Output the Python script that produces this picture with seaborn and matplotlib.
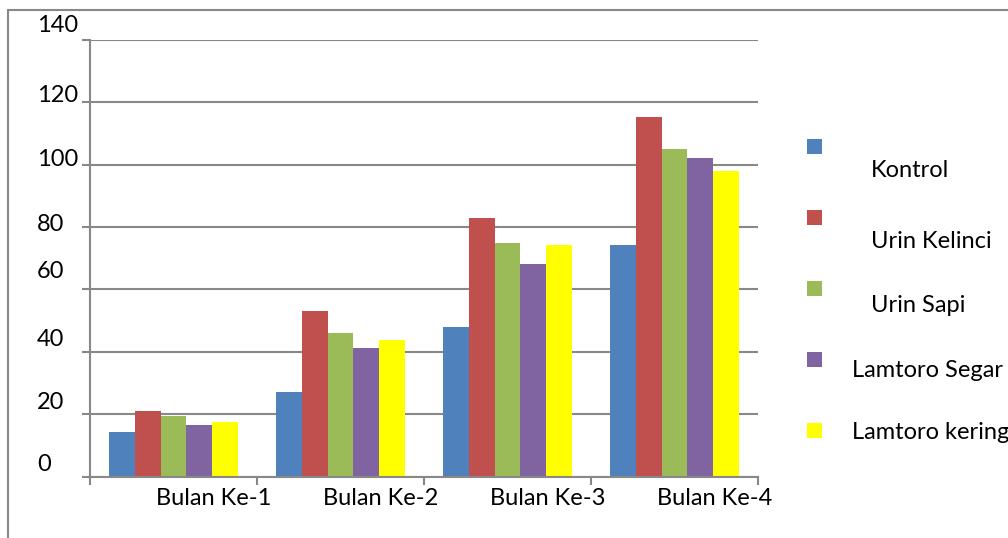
import numpy as np
import pandas as pd
import seaborn as sns
import matplotlib
matplotlib.use("Agg")
import matplotlib.pyplot as plt
from matplotlib.transforms import ScaledTranslation, blended_transform_factory
from matplotlib.patches import Rectangle
from matplotlib.lines import Line2D

# ---------------- data ----------------
categories = ["Bulan Ke-1", "Bulan Ke-2", "Bulan Ke-3", "Bulan Ke-4"]
series_names = ["Kontrol", "Urin Kelinci", "Urin Sapi", "Lamtoro Segar", "Lamtoro kering"]
kontrol = [14.3, 27.1, 47.9, 74.2]
urin_kelinci = [21.0, 53.0, 82.9, 115.2]
urin_sapi = [19.4, 46.0, 74.8, 105.0]
lamtoro_segar = [16.5, 41.2, 68.1, 102.1]
lamtoro_kering = [17.5, 43.8, 74.2, 97.9]
ytick_values = [0, 20, 40, 60, 80, 100, 120, 140]
ytick_labels = ["0", "20", "40", "60", "80", "100", "120", "140"]
colors = ["#4F81BD", "#C0504D", "#9BBB59", "#8064A2", "#FFFF00"]

values = [kontrol, urin_kelinci, urin_sapi, lamtoro_segar, lamtoro_kering]
df = pd.DataFrame({
    "Bulan": np.tile(categories, len(series_names)),
    "Perlakuan": np.repeat(series_names, len(categories)),
    "Nilai": np.concatenate(values),
})

sns.set_theme(style="white")
plt.rcParams["font.family"] = ["Lato", "DejaVu Sans"]
FS = 17
GRAY = "#888888"
DPI = 100

fig = plt.figure(figsize=(10.08, 5.38), dpi=DPI)
W, H = 1008, 538
ax = fig.add_axes([90 / W, 1 - 476.5 / H, (758 - 90) / W, (476.5 - 40) / H])

sns.barplot(data=df, x="Bulan", y="Nilai", hue="Perlakuan", order=categories,
            hue_order=series_names, palette=colors, saturation=1, width=0.771,
            gap=0, legend=False, ax=ax, linewidth=0)

ax.set_xlim(-0.5, len(categories) - 0.5)
ax.set_ylim(0, 140)
ax.set_xlabel("")
ax.set_ylabel("")
ax.set_axisbelow(True)
ax.set_facecolor("white")

# gridlines
ax.set_yticks(ytick_values)
ax.set_yticklabels([""] * len(ytick_values))
ax.yaxis.grid(True, color=GRAY, linewidth=1.5)
ax.xaxis.grid(False)
ax.tick_params(axis="y", which="major", length=6, width=1.5, color=GRAY, direction="out", left=True, pad=0)

for s in ["top", "right"]:
    ax.spines[s].set_visible(False)
for s in ["left", "bottom"]:
    ax.spines[s].set_color(GRAY)
    ax.spines[s].set_linewidth(1.5)

# x ticks: boundaries as minor ticks, labels offset to the right
ax.set_xticks(np.arange(-0.5, len(categories), 1.0), minor=True)
ax.set_xticks(range(len(categories)))
ax.set_xticklabels(categories, fontsize=FS, color="black")
ax.tick_params(axis="x", which="minor", length=6, width=1.5, color=GRAY, direction="out", bottom=True)
ax.tick_params(axis="x", which="major", length=0, pad=8, bottom=True)
for lbl in ax.get_xticklabels():
    lbl.set_transform(lbl.get_transform() + ScaledTranslation(40.5 / DPI, 0, fig.dpi_scale_trans))

# y tick labels, left aligned, with the original's vertical offsets (px up from gridline)
y_up = [13.7, 13, 14, 19.7, 3.7, 6.3, 8.5, 15.5]
for v, lab, up in zip(ytick_values, ytick_labels, y_up):
    tr = blended_transform_factory(fig.transFigure, ax.transData) + \
        ScaledTranslation(0, (up - 8) / DPI, fig.dpi_scale_trans)
    ax.text(37 / W, v, lab, transform=tr, ha="left", va="baseline",
            fontsize=FS, color="black", clip_on=False)

# outer frame (left and top edges visible)
fig.add_artist(Line2D([7.5 / W, 7.5 / W], [0, 1 - 10 / H], transform=fig.transFigure,
                      color=GRAY, linewidth=1.5))
fig.add_artist(Line2D([7.5 / W, 1], [1 - 10 / H, 1 - 10 / H], transform=fig.transFigure,
                      color=GRAY, linewidth=1.5))

# legend drawn manually to reproduce the layout
patch_tops = [139.3, 210, 281, 352, 423]
text_x = [870.7, 870.7, 870.7, 852.3, 852.3]
text_base = [176.7, 247.7, 311.5, 377.3, 439.3]
for name, c, pt, tx, tb in zip(series_names, colors, patch_tops, text_x, text_base):
    fig.add_artist(Rectangle((807 / W, 1 - (pt + 15) / H), 15 / W, 15 / H,
                             transform=fig.transFigure, facecolor=c, edgecolor="none"))
    fig.text(tx / W, 1 - tb / H, name, ha="left", va="baseline", fontsize=FS, color="black")

fig.savefig("out.png", dpi=DPI, facecolor="white")
